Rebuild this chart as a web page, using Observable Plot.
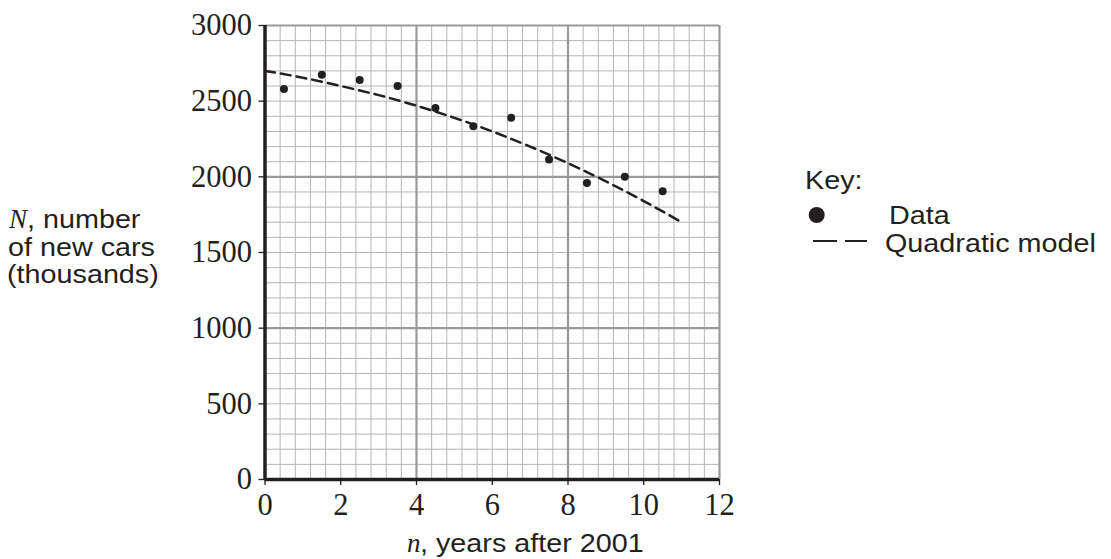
<!DOCTYPE html>
<html>
<head>
<meta charset="utf-8">
<script src="https://cdn.jsdelivr.net/npm/d3@7"></script>
<script src="https://cdn.jsdelivr.net/npm/@observablehq/plot@0.6"></script>
<style>
  body { margin: 0; background: #fff; }
  #wrap { position: relative; width: 1111px; height: 559px; overflow: hidden; background: #fff; }
  #wrap svg.overlay { position: absolute; left: 0; top: 0; pointer-events: none; }
</style>
</head>
<body>
<div id="wrap"></div>
<script>
// ---- data ----
const years = [0.5, 1.5, 2.5, 3.5, 4.5, 5.5, 6.5, 7.5, 8.5, 9.5, 10.5];
const cars  = [2580, 2675, 2640, 2600, 2455, 2335, 2390, 2115, 1960, 2000, 1905];

const modelYears = [0, 1, 2, 3, 4, 5, 6, 7, 8, 9, 10, 11];
const modelCars  = [2700, 2655, 2600, 2540, 2470, 2390, 2300, 2200, 2090, 1970, 1840, 1700];

const xTicks = [0, 2, 4, 6, 8, 10, 12];
const yTicks = [0, 500, 1000, 1500, 2000, 2500, 3000];
const xMajor = [4, 8, 12];
const yMajor = [1000, 2000, 3000];

const xMinor = d3.range(0, 31).map(i => +(i * 0.4).toFixed(1));
const yMinor = d3.range(0, 31).map(i => i * 100);

const points = years.map((n, i) => ({n, N: cars[i]}));
const model  = modelYears.map((n, i) => ({n, N: modelCars[i]}));

const ink = "#231f20";

const plot = Plot.plot({
  width: 1111,
  height: 559,
  marginLeft: 264.5,
  marginRight: 392,
  marginTop: 25,
  marginBottom: 80,
  x: {domain: [0, 12]},
  y: {domain: [0, 3000]},
  style: {fontFamily: "'Liberation Serif', 'DejaVu Serif', serif", fontSize: "30.5px", color: ink, background: "#fff", overflow: "visible"},
  marks: [
    Plot.gridX(xMinor, {stroke: "#b5b5b5", strokeOpacity: 1, strokeWidth: 1}),
    Plot.gridY(yMinor, {stroke: "#b5b5b5", strokeOpacity: 1, strokeWidth: 1}),
    Plot.gridX(xMajor, {stroke: "#9a9a9a", strokeOpacity: 1, strokeWidth: 2.2}),
    Plot.gridY(yMajor, {stroke: "#9a9a9a", strokeOpacity: 1, strokeWidth: 2.2}),
    Plot.axisX(xTicks, {tickSize: 6, tickPadding: 8, label: null, stroke: ink, strokeWidth: 1.3, fill: ink, tickFormat: d => String(d)}),
    Plot.axisY(yTicks, {tickSize: 6, tickPadding: 7, label: null, stroke: ink, strokeWidth: 1.3, fill: ink, tickFormat: d => String(d)}),
    Plot.ruleX([0], {stroke: ink, strokeWidth: 3.5}),
    Plot.ruleY([0], {stroke: ink, strokeWidth: 3.5}),
    Plot.line(model, {x: "n", y: "N", stroke: ink, strokeWidth: 2.5, strokeDasharray: "10,6", curve: "natural"}),
    Plot.dot(points, {x: "n", y: "N", r: 4, fill: ink, stroke: "none"})
  ]
});

const wrap = document.getElementById("wrap");
wrap.appendChild(plot);

// ---- labels and key ----
const sans = "'Liberation Sans', Arial, sans-serif";
const serif = "'Liberation Serif', 'DejaVu Serif', serif";
const ov = d3.select(wrap).append("svg")
  .attr("class", "overlay")
  .attr("width", 1111).attr("height", 559);

function sText(x, y, str, size = 25) {
  ov.append("text")
    .attr("transform", `translate(${x},${y}) scale(1.15,1)`)
    .attr("font-family", sans).attr("font-size", size)
    .attr("fill", ink).text(str);
}
function iText(x, y, str, size = 27) {
  ov.append("text")
    .attr("x", x).attr("y", y)
    .attr("font-family", serif).attr("font-style", "italic").attr("font-size", size)
    .attr("fill", ink).text(str);
}

// y-axis title
iText(9, 228, "N");
sText(27, 228, ", number");
sText(8, 255.5, "of new cars");
sText(7, 283, "(thousands)");

// x-axis title
iText(407, 552, "n");
sText(420, 552, ", years after 2001");

// key
sText(805, 188.5, "Key:");
ov.append("circle").attr("cx", 816.7).attr("cy", 215).attr("r", 8).attr("fill", ink);
sText(889, 223.5, "Data");
ov.append("line").attr("x1", 813).attr("x2", 837).attr("y1", 241).attr("y2", 241)
  .attr("stroke", ink).attr("stroke-width", 2);
ov.append("line").attr("x1", 845).attr("x2", 867).attr("y1", 241).attr("y2", 241)
  .attr("stroke", ink).attr("stroke-width", 2);
sText(885, 252, "Quadratic model");
</script>
</body>
</html>
